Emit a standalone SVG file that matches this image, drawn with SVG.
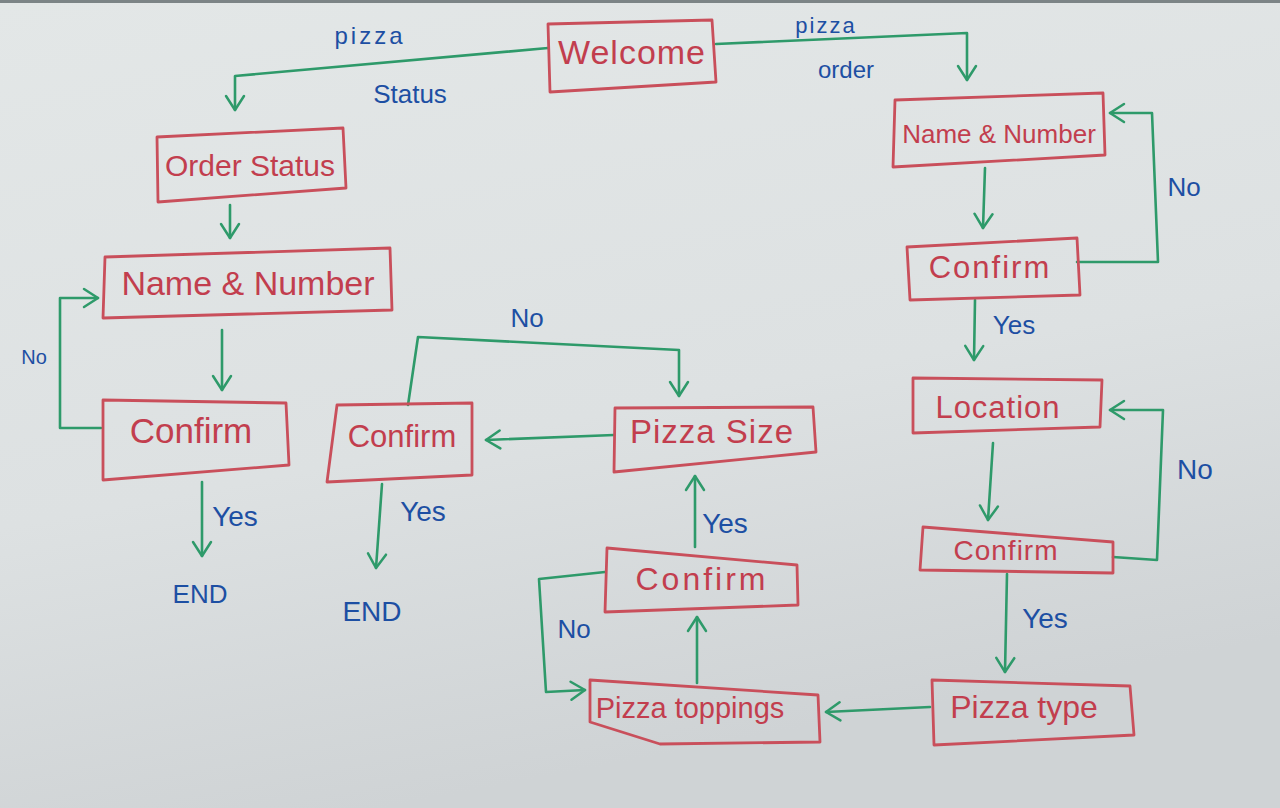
<svg xmlns="http://www.w3.org/2000/svg" width="1280" height="808" viewBox="0 0 1280 808">
<defs>
<linearGradient id="bg" x1="0" y1="0" x2="0.3" y2="1">
<stop offset="0" stop-color="#e3e7e7"/>
<stop offset="0.6" stop-color="#dde1e2"/>
<stop offset="1" stop-color="#cfd3d5"/>
</linearGradient>
<marker id="arr" viewBox="-16 -11 18 22" refX="0" refY="0" markerWidth="18" markerHeight="22" markerUnits="userSpaceOnUse" orient="auto">
<path d="M-14,-9 L0,0 L-14,9" fill="none" stroke="#2e9a6a" stroke-width="2.5" stroke-linecap="round" stroke-linejoin="round"/>
</marker>
<style>
.box{fill:none;stroke:#c94f5b;stroke-width:2.8;stroke-linejoin:round}
.t{font-family:"Liberation Sans",Arial,sans-serif;fill:#c23e4e;text-anchor:middle}
.lbl{font-family:"Liberation Sans",Arial,sans-serif;fill:#1d4fa3;text-anchor:middle}
.c{fill:none;stroke:#2e9a6a;stroke-width:2.6;stroke-linejoin:round;stroke-linecap:round;marker-end:url(#arr)}
</style>
</defs>
<rect x="0" y="0" width="1280" height="808" fill="url(#bg)"/>
<rect x="0" y="0" width="1280" height="3" fill="#7c8486"/>

<g id="connectors">
<path class="c" d="M548,48 L235,76 L235,110"/>
<path class="c" d="M716,44 L967,33 L967,80"/>
<path class="c" d="M230,205 L230,238"/>
<path class="c" d="M222,330 L222,390"/>
<path class="c" d="M101,428 L60,428 L60,298 L98,298"/>
<path class="c" d="M202,482 L202,556"/>
<path class="c" d="M408,405 L418,337 L679,350 L679,396"/>
<path class="c" d="M614,435 L486,440"/>
<path class="c" d="M382,484 L376,568"/>
<path class="c" d="M695,547 L695,476"/>
<path class="c" d="M605,572 L539,579 L546,692 L585,690"/>
<path class="c" d="M697,683 L697,617"/>
<path class="c" d="M930,707 L826,712"/>
<path class="c" d="M1007,574 L1005,672"/>
<path class="c" d="M1113,557 L1157,560 L1163,410 L1110,410"/>
<path class="c" d="M993,443 L988,520"/>
<path class="c" d="M975,300 L974,360"/>
<path class="c" d="M1077,262 L1158,262 L1152,113 L1110,113"/>
<path class="c" d="M985,168 L983,228"/>
</g>

<g id="labels">
<text class="lbl" x="370" y="44" font-size="24" letter-spacing="3">pizza</text>
<text class="lbl" x="410" y="103" font-size="26">Status</text>
<text class="lbl" x="826" y="33" font-size="22" letter-spacing="2">pizza</text>
<text class="lbl" x="846" y="78" font-size="24">order</text>
<text class="lbl" x="1184" y="196" font-size="26">No</text>
<text class="lbl" x="1014" y="334" font-size="26">Yes</text>
<text class="lbl" x="1195" y="479" font-size="28">No</text>
<text class="lbl" x="1045" y="628" font-size="28">Yes</text>
<text class="lbl" x="34" y="364" font-size="20">No</text>
<text class="lbl" x="235" y="526" font-size="28">Yes</text>
<text class="lbl" x="200" y="603" font-size="26">END</text>
<text class="lbl" x="527" y="327" font-size="26">No</text>
<text class="lbl" x="423" y="521" font-size="28">Yes</text>
<text class="lbl" x="372" y="621" font-size="28">END</text>
<text class="lbl" x="725" y="533" font-size="28">Yes</text>
<text class="lbl" x="574" y="638" font-size="26">No</text>
</g>

<g id="welcome">
<polygon class="box" points="548,24 712,20 716,82 550,92"/>
<text class="t" x="632" y="64" font-size="34" letter-spacing="1">Welcome</text>
</g>
<g id="order-status">
<polygon class="box" points="157,137 343,128 346,188 158,202"/>
<text class="t" x="250" y="176" font-size="30">Order Status</text>
</g>
<g id="name-number-left">
<polygon class="box" points="105,257 390,248 392,310 103,318"/>
<text class="t" x="248" y="295" font-size="34">Name &amp; Number</text>
</g>
<g id="confirm-left">
<polygon class="box" points="103,400 286,403 289,465 103,480"/>
<text class="t" x="191" y="443" font-size="35">Confirm</text>
</g>
<g id="confirm-mid">
<polygon class="box" points="337,405 472,403 472,475 327,482"/>
<text class="t" x="402" y="447" font-size="31">Confirm</text>
</g>
<g id="pizza-size">
<polygon class="box" points="615,408 813,407 816,452 614,472"/>
<text class="t" x="712" y="443" font-size="33" letter-spacing="1">Pizza Size</text>
</g>
<g id="confirm-mid-bottom">
<polygon class="box" points="607,548 797,565 798,605 605,612"/>
<text class="t" x="702" y="590" font-size="32" letter-spacing="3">Confirm</text>
</g>
<g id="pizza-toppings">
<polygon class="box" points="590,680 818,695 820,742 660,744 590,722"/>
<text class="t" x="690" y="718" font-size="29">Pizza toppings</text>
</g>
<g id="pizza-type">
<polygon class="box" points="932,680 1130,686 1134,735 934,745"/>
<text class="t" x="1024" y="718" font-size="32">Pizza type</text>
</g>
<g id="confirm-right-bottom">
<polygon class="box" points="923,527 1113,542 1113,573 920,570"/>
<text class="t" x="1006" y="560" font-size="28" letter-spacing="1">Confirm</text>
</g>
<g id="location">
<polygon class="box" points="913,378 1102,380 1100,427 913,433"/>
<text class="t" x="998" y="418" font-size="31" letter-spacing="1">Location</text>
</g>
<g id="confirm-right-mid">
<polygon class="box" points="907,247 1077,238 1080,295 910,300"/>
<text class="t" x="990" y="278" font-size="31" letter-spacing="2">Confirm</text>
</g>
<g id="name-number-right">
<polygon class="box" points="895,100 1103,93 1105,155 893,167"/>
<text class="t" x="999" y="143" font-size="26">Name &amp; Number</text>
</g>
</svg>
